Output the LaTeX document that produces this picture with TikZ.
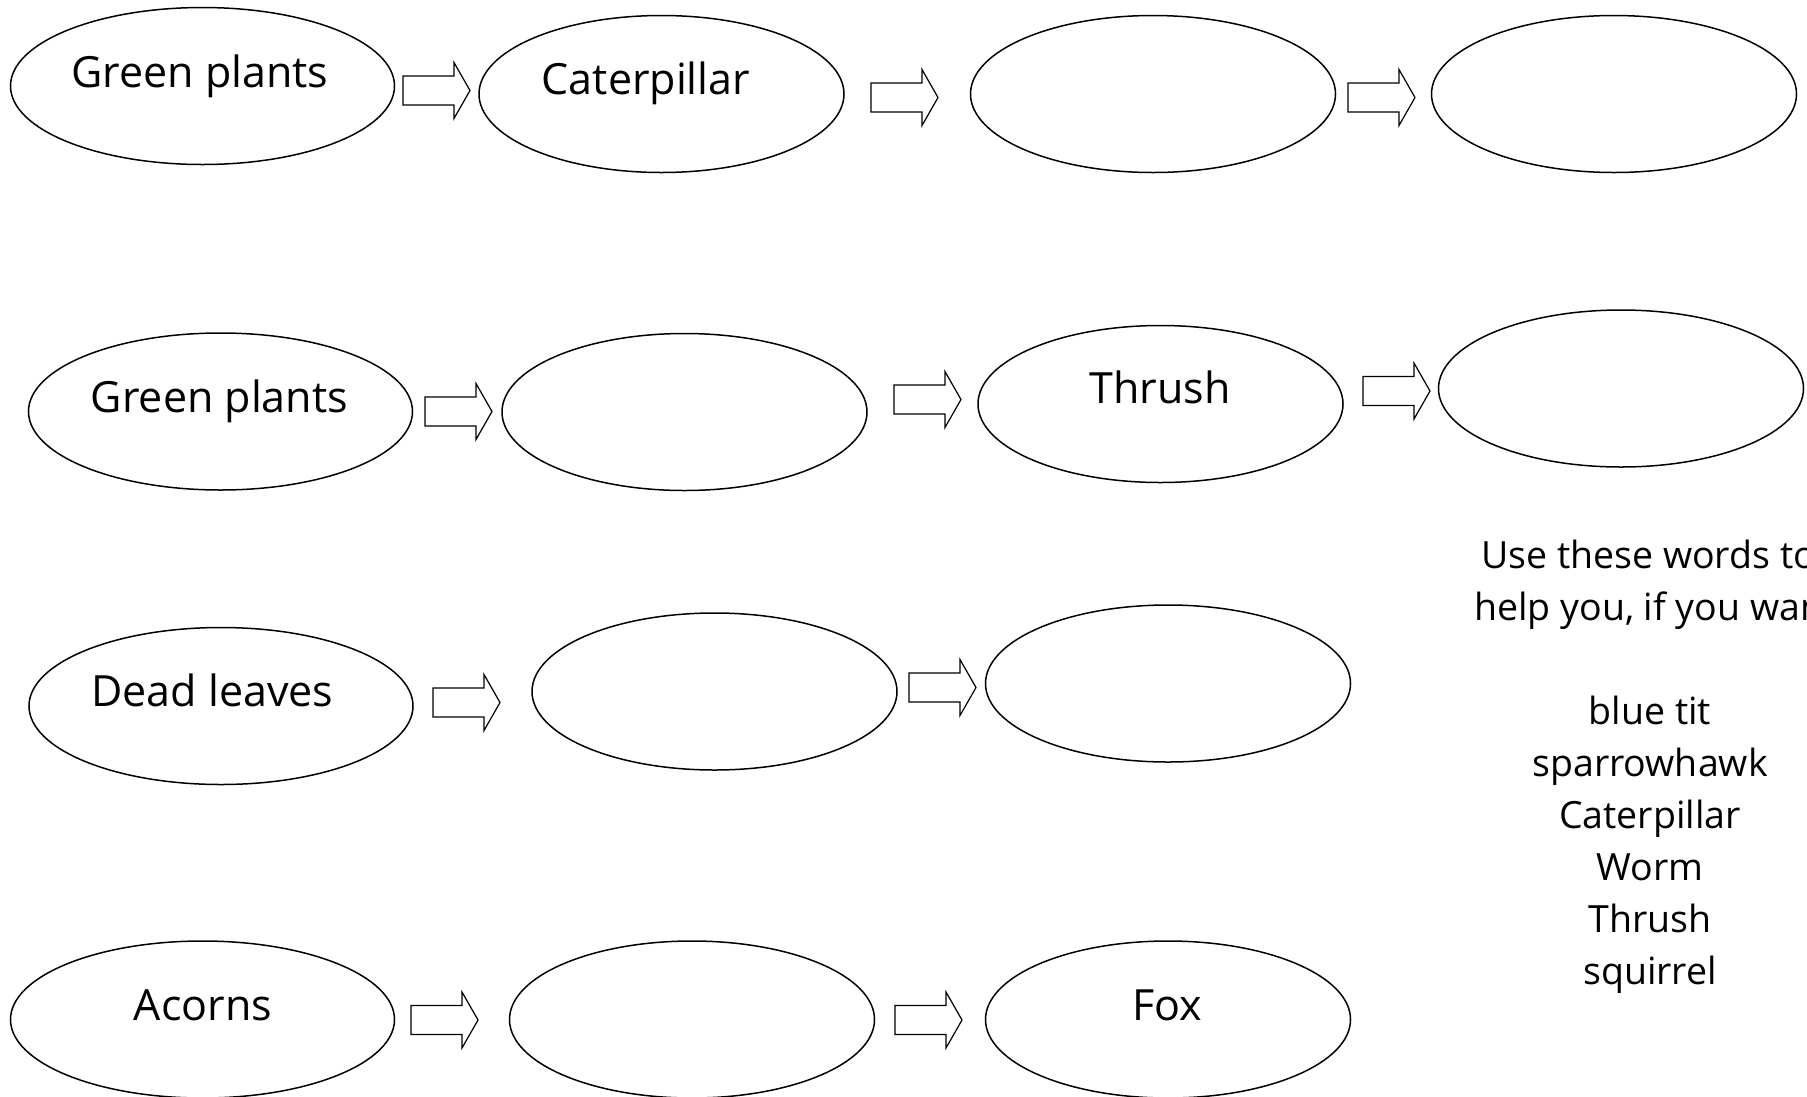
\documentclass[tikz,border=0pt]{standalone}
\usepackage{fontspec}
\setmainfont{Open Sans}
\usetikzlibrary{shapes.geometric}
\begin{document}
\begin{tikzpicture}[x=1pt,y=-1pt,
  bigoval/.style={draw, ellipse, line width=1.5pt, inner sep=0pt, minimum width=384pt, minimum height=157pt},
  oval/.style={draw, ellipse, line width=1.5pt, inner sep=0pt, minimum width=365pt, minimum height=157pt},
  lbl/.style={inner sep=0pt, anchor=base, font=\fontsize{43}{52}\selectfont},
  wordlbl/.style={inner sep=0pt, anchor=base, font=\fontsize{37.5}{52}\selectfont},
  headlbl/.style={inner sep=0pt, anchor=base west, font=\fontsize{37.5}{52}\selectfont},
  arrowline/.style={draw, line width=1.2pt, line join=miter},
  blockarrow/.pic={\path[arrowline] (0,-14.5) -- (51,-14.5) -- (51,-28) -- (67,0) -- (51,28) -- (51,14.5) -- (0,14.5) -- cycle;}
]
\useasboundingbox (0,0) rectangle (1807,1096);
\clip (0,0) rectangle (1807,1096);

% Row 1
\node[bigoval] (e1) at (202.5,86) {};
\node[oval] (e2) at (661.5,94) {};
\node[oval] (e3) at (1153,94) {};
\node[oval] (e4) at (1614,94) {};
\node[lbl] (t1) at (200,87) {Green plants};
\node[lbl] (t2) at (646,94) {Caterpillar};
\coordinate (a11) at (403,90.5);
\coordinate (a12) at (871,97.5);
\coordinate (a13) at (1348,97.5);
\pic at (a11) {blockarrow};
\pic at (a12) {blockarrow};
\pic at (a13) {blockarrow};

% Row 2
\node[bigoval] (e5) at (220.5,411.5) {};
\node[oval] (e6) at (684.5,412) {};
\node[oval] (e7) at (1160.5,404) {};
\node[oval] (e8) at (1621,388.5) {};
\node[lbl] (t5) at (219.5,412) {Green plants};
\node[lbl] (t7) at (1160,403) {Thrush};
\coordinate (a21) at (425,411.5);
\coordinate (a22) at (894,399.5);
\coordinate (a23) at (1363,391);
\pic at (a21) {blockarrow};
\pic at (a22) {blockarrow};
\pic at (a23) {blockarrow};

% Row 3
\node[bigoval] (e9) at (221,706) {};
\node[oval] (e10) at (714.5,691.5) {};
\node[oval] (e11) at (1168,683.5) {};
\node[lbl] (t9) at (212.5,706) {Dead leaves};
\coordinate (a31) at (433,702.5);
\coordinate (a32) at (909,687.5);
\pic at (a31) {blockarrow};
\pic at (a32) {blockarrow};

% Row 4
\node[bigoval] (e12) at (202.5,1019.5) {};
\node[oval] (e13) at (692,1019.5) {};
\node[oval] (e14) at (1168,1019.5) {};
\node[lbl] (t12) at (203,1020) {Acorns};
\node[lbl] (t14) at (1167,1020) {Fox};
\coordinate (a41) at (411,1020);
\coordinate (a42) at (895,1020);
\pic at (a41) {blockarrow};
\pic at (a42) {blockarrow};

% Word list
\node[headlbl] (h1) at (1481,568) {Use these words to};
\node[headlbl] (h2) at (1474,620) {help you, if you want};
\node[wordlbl] (w1) at (1650,724) {blue tit};
\node[wordlbl] (w2) at (1650,776) {sparrowhawk};
\node[wordlbl] (w3) at (1650,828) {Caterpillar};
\node[wordlbl] (w4) at (1650,880) {Worm};
\node[wordlbl] (w5) at (1650,932) {Thrush};
\node[wordlbl] (w6) at (1650,984) {squirrel};
\end{tikzpicture}
\end{document}
